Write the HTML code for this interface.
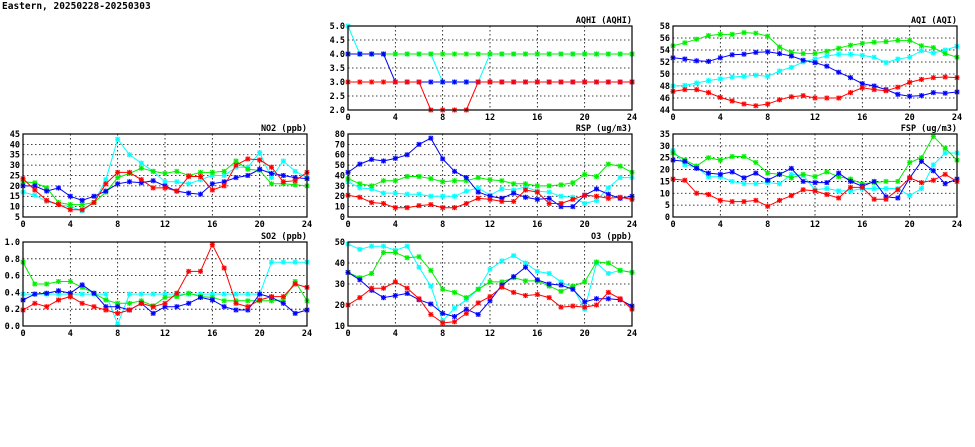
<!DOCTYPE html>
<html><head><meta charset="utf-8"><style>
body{margin:0;background:#fff;width:975px;height:447px;overflow:hidden}
svg{position:absolute;left:0;top:0}
text{font-family:"DejaVu Sans Mono","Liberation Mono",monospace;font-size:8.5px;font-weight:bold;fill:#000}
.yl{text-anchor:end}
.xl{text-anchor:middle}
.tt{text-anchor:end}
</style></head><body>
<svg id="s" width="975" height="447" xmlns="http://www.w3.org/2000/svg">
<text x="2" y="9" style="font-size:9.5px">Eastern, 20250228-20250303</text>

<g transform="translate(348,26)"><text class="tt" x="284" y="-3">AQHI (AQHI)</text>
<text class="yl" x="-3" y="87">2.0</text><text class="yl" x="-3" y="73">2.5</text><text class="yl" x="-3" y="59">3.0</text><text class="yl" x="-3" y="45">3.5</text><text class="yl" x="-3" y="31">4.0</text><text class="yl" x="-3" y="17">4.5</text><text class="yl" x="-3" y="3">5.0</text>
<text class="xl" x="0" y="94">0</text><text class="xl" x="47.3" y="94">4</text><text class="xl" x="94.7" y="94">8</text><text class="xl" x="142" y="94">12</text><text class="xl" x="189.3" y="94">16</text><text class="xl" x="236.7" y="94">20</text><text class="xl" x="284" y="94">24</text></g>

<g transform="translate(673,26)"><text class="tt" x="284" y="-3">AQI (AQI)</text>
<text class="yl" x="-3" y="87">44</text><text class="yl" x="-3" y="75">46</text><text class="yl" x="-3" y="63">48</text><text class="yl" x="-3" y="51">50</text><text class="yl" x="-3" y="39">52</text><text class="yl" x="-3" y="27">54</text><text class="yl" x="-3" y="15">56</text><text class="yl" x="-3" y="3">58</text>
<text class="xl" x="0" y="94">0</text><text class="xl" x="47.3" y="94">4</text><text class="xl" x="94.7" y="94">8</text><text class="xl" x="142" y="94">12</text><text class="xl" x="189.3" y="94">16</text><text class="xl" x="236.7" y="94">20</text><text class="xl" x="284" y="94">24</text></g>

<g transform="translate(23,134)"><text class="tt" x="284" y="-3">NO2 (ppb)</text>
<text class="yl" x="-3" y="86">5</text><text class="yl" x="-3" y="75.6">10</text><text class="yl" x="-3" y="65.2">15</text><text class="yl" x="-3" y="54.9">20</text><text class="yl" x="-3" y="44.5">25</text><text class="yl" x="-3" y="34.1">30</text><text class="yl" x="-3" y="23.7">35</text><text class="yl" x="-3" y="13.4">40</text><text class="yl" x="-3" y="3">45</text>
<text class="xl" x="0" y="93">0</text><text class="xl" x="47.3" y="93">4</text><text class="xl" x="94.7" y="93">8</text><text class="xl" x="142" y="93">12</text><text class="xl" x="189.3" y="93">16</text><text class="xl" x="236.7" y="93">20</text><text class="xl" x="284" y="93">24</text></g>

<g transform="translate(348,134)"><text class="tt" x="284" y="-3">RSP (ug/m3)</text>
<text class="yl" x="-3" y="86">0</text><text class="yl" x="-3" y="75.6">10</text><text class="yl" x="-3" y="65.2">20</text><text class="yl" x="-3" y="54.9">30</text><text class="yl" x="-3" y="44.5">40</text><text class="yl" x="-3" y="34.1">50</text><text class="yl" x="-3" y="23.7">60</text><text class="yl" x="-3" y="13.4">70</text><text class="yl" x="-3" y="3">80</text>
<text class="xl" x="0" y="93">0</text><text class="xl" x="47.3" y="93">4</text><text class="xl" x="94.7" y="93">8</text><text class="xl" x="142" y="93">12</text><text class="xl" x="189.3" y="93">16</text><text class="xl" x="236.7" y="93">20</text><text class="xl" x="284" y="93">24</text></g>

<g transform="translate(673,134)"><text class="tt" x="284" y="-3">FSP (ug/m3)</text>
<text class="yl" x="-3" y="86">0</text><text class="yl" x="-3" y="74.1">5</text><text class="yl" x="-3" y="62.3">10</text><text class="yl" x="-3" y="50.4">15</text><text class="yl" x="-3" y="38.6">20</text><text class="yl" x="-3" y="26.7">25</text><text class="yl" x="-3" y="14.9">30</text><text class="yl" x="-3" y="3">35</text>
<text class="xl" x="0" y="93">0</text><text class="xl" x="47.3" y="93">4</text><text class="xl" x="94.7" y="93">8</text><text class="xl" x="142" y="93">12</text><text class="xl" x="189.3" y="93">16</text><text class="xl" x="236.7" y="93">20</text><text class="xl" x="284" y="93">24</text></g>

<g transform="translate(23,242)"><text class="tt" x="284" y="-3">SO2 (ppb)</text>
<text class="yl" x="-3" y="87">0.0</text><text class="yl" x="-3" y="70.2">0.2</text><text class="yl" x="-3" y="53.4">0.4</text><text class="yl" x="-3" y="36.6">0.6</text><text class="yl" x="-3" y="19.8">0.8</text><text class="yl" x="-3" y="3">1.0</text>
<text class="xl" x="0" y="94">0</text><text class="xl" x="47.3" y="94">4</text><text class="xl" x="94.7" y="94">8</text><text class="xl" x="142" y="94">12</text><text class="xl" x="189.3" y="94">16</text><text class="xl" x="236.7" y="94">20</text><text class="xl" x="284" y="94">24</text></g>

<g transform="translate(348,242)"><text class="tt" x="284" y="-3">O3 (ppb)</text>
<text class="yl" x="-3" y="87">10</text><text class="yl" x="-3" y="66">20</text><text class="yl" x="-3" y="45">30</text><text class="yl" x="-3" y="24">40</text><text class="yl" x="-3" y="3">50</text>
<text class="xl" x="0" y="94">0</text><text class="xl" x="47.3" y="94">4</text><text class="xl" x="94.7" y="94">8</text><text class="xl" x="142" y="94">12</text><text class="xl" x="189.3" y="94">16</text><text class="xl" x="236.7" y="94">20</text><text class="xl" x="284" y="94">24</text></g>
</svg>
<script>
var NS="http://www.w3.org/2000/svg",S=document.getElementById("s");
function el(t,a){var e=document.createElementNS(NS,t);for(var k in a)e.setAttribute(k,a[k]);S.appendChild(e);return e;}
var C=["#00ffff","#00ee00","#0000ff","#ff0000"];
var P=[
{x:348,y:26,h:84,min:2,max:5,n:6,d:[
[5,4,4,4,4,4,4,4,3,3,3,3,4,4,4,4,4,4,4,4,4,4,4,4,4],
[4,4,4,4,4,4,4,4,4,4,4,4,4,4,4,4,4,4,4,4,4,4,4,4,4],
[4,4,4,4,3,3,3,3,3,3,3,3,3,3,3,3,3,3,3,3,3,3,3,3,3],
[3,3,3,3,3,3,3,2,2,2,2,3,3,3,3,3,3,3,3,3,3,3,3,3,3]]},
{x:673,y:26,h:84,min:44,max:58,n:7,d:[
[48.0,48.1,48.5,48.9,49.2,49.5,49.6,49.8,49.6,50.5,51.1,52.0,52.5,53.0,53.3,53.3,53.1,52.8,51.9,52.5,52.8,53.9,53.5,54.0,54.6],
[54.7,55.2,55.8,56.4,56.6,56.6,56.9,56.8,56.3,54.5,53.6,53.4,53.4,53.8,54.3,54.8,55.1,55.3,55.4,55.6,55.6,54.7,54.4,53.4,52.8],
[52.7,52.5,52.2,52.1,52.7,53.2,53.3,53.6,53.7,53.4,53.0,52.3,51.9,51.3,50.3,49.4,48.4,48.0,47.4,46.6,46.3,46.4,46.9,46.8,47.0],
[47.1,47.4,47.4,46.9,46.1,45.5,45.0,44.7,45.0,45.7,46.2,46.4,46.0,46.0,46.0,46.9,47.7,47.4,47.2,47.8,48.6,49.1,49.4,49.5,49.4]]},
{x:23,y:134,h:83,min:5,max:45,n:8,d:[
[17,15.5,12.5,11,10,8,12,23,42.5,35,31,27,22,22,21,23,25,25,29,29,36,24,32,27,24],
[22,21.5,19,12,11,11,12,17,24,26,28.5,27,26,27,25,26.5,26.5,27,32,28,27.5,21,21,20.5,20],
[20,20,17.5,19,15,13,15,17.5,21,22,21.5,22.5,20,17.5,16.5,16,21,22,24,25,28,26,25,24,23.5],
[23.5,18,13,11,8.5,8.5,12,21,26.5,26.5,23,19,19,17.5,24.5,24.5,18,20,30,33,32.5,29,22,22.5,26.5]]},
{x:348,y:134,h:83,min:0,max:80,n:8,d:[
[34,28,27,23,23,22,22,20,20,20,25,28,21,27,26,29,25,24,20,19,13,16,28,38,38],
[37,32,30,35,35,39,39,37,34,35,35,38,36,35,32,32,30,30,31,33,41,39,51,49,43],
[43,51,55.5,54,56.5,60,70,76,56,44,38,24,20,18,23,19,17,18,10,10,21,27,22,18,20],
[21,19,14,13,9,9,11,12,9,9,13,18,17,15,15,26,24,13,13,17,21,20,18,19,17]]},
{x:673,y:134,h:83,min:0,max:35,n:7,d:[
[28,22,21,17,17,15,14,14,14.5,14,18,17.5,11.5,12,11,11,12,12,12,12,9,12,22,27,27],
[27,24,21.5,25,24,25.5,25.5,23,18.5,18,16.5,18,17,19,17,16,14,14.5,15,15,23,25,34,29,24],
[24,23.5,20.5,18.5,18,19,16.5,18.5,15.5,18,20.5,15,14.5,14.5,18.5,15,13,15,8.5,8,16.5,23.5,19.5,14,16],
[16,15.5,10,9.5,7,6.5,6.5,7,4.5,7,9,11.5,11,9.5,8,12.5,12.5,7.5,7.5,11.5,16.5,14.5,15.5,18,15]]},
{x:23,y:242,h:84,min:0,max:1,n:5,d:[
[0.38,0.38,0.38,0.38,0.38,0.38,0.38,0.38,0.02,0.38,0.38,0.38,0.38,0.38,0.38,0.38,0.38,0.38,0.38,0.38,0.38,0.76,0.76,0.76,0.76],
[0.76,0.5,0.5,0.53,0.53,0.46,0.39,0.31,0.27,0.27,0.3,0.24,0.34,0.35,0.39,0.35,0.34,0.3,0.3,0.3,0.3,0.3,0.31,0.53,0.3],
[0.31,0.38,0.39,0.42,0.39,0.49,0.39,0.23,0.23,0.19,0.27,0.15,0.23,0.23,0.27,0.34,0.31,0.23,0.19,0.19,0.38,0.34,0.27,0.15,0.19],
[0.19,0.27,0.23,0.31,0.35,0.27,0.23,0.19,0.15,0.19,0.27,0.23,0.27,0.39,0.65,0.65,0.97,0.69,0.27,0.23,0.31,0.35,0.35,0.5,0.46]]},
{x:348,y:242,h:84,min:10,max:50,n:4,d:[
[49,46.5,48,48,46,48,38,29,12.5,18.5,22.5,27.5,37,41,43.5,40,36,35,31,28.5,18,40,35,36.5,35.5],
[35.5,33,35,45,45,42.5,43,36.5,27.5,26,23.5,27.5,31,31,33,31.5,31.5,29,26.5,29,31,40.5,40,36.5,35.5],
[35.5,32,27,23.5,24.5,25.5,22.5,20.5,16,14.5,18,15.5,22,29.5,33.5,38,32,30,29.5,27.5,21.5,23,23,22.5,19.5],
[20,23.5,28,28,31,28,23,15.5,11.5,12,16,21,24,28.5,26,24.5,25,23.5,19,19.5,19,20,26,23,18]]}
];
P.forEach(function(p){
 var W=284;
 for(var i=1;i<p.n;i++){var y=p.y+p.h*i/p.n;el("line",{x1:p.x,x2:p.x+W,y1:y,y2:y,stroke:"#000","stroke-width":0.8,"stroke-dasharray":"1.5,2.5"});}
 for(var j=1;j<6;j++){var x=p.x+W*j/6;el("line",{x1:x,x2:x,y1:p.y,y2:p.y+p.h,stroke:"#000","stroke-width":0.8,"stroke-dasharray":"1.5,2.5"});}
 p.d.forEach(function(s,k){
  var pts=s.map(function(v,i){return [p.x+W*i/24,p.y+p.h*(p.max-v)/(p.max-p.min)];});
  el("polyline",{points:pts.map(function(q){return q[0].toFixed(1)+","+q[1].toFixed(1)}).join(" "),fill:"none",stroke:C[k],"stroke-width":1});
  pts.forEach(function(q){
   el("rect",{x:q[0]-2.5,y:q[1]-2.5,width:5,height:5,fill:C[k],opacity:0.3});
   el("path",{d:"M"+(q[0]-2.5)+","+q[1]+"h5M"+q[0]+","+(q[1]-2.5)+"v5M"+(q[0]-2)+","+(q[1]-2)+"l4,4M"+(q[0]-2)+","+(q[1]+2)+"l4,-4",stroke:C[k],"stroke-width":1});
  });
 });
 el("rect",{x:p.x,y:p.y,width:W,height:p.h,fill:"none",stroke:"#000","stroke-width":1.2});
});
</script>
</body></html>
